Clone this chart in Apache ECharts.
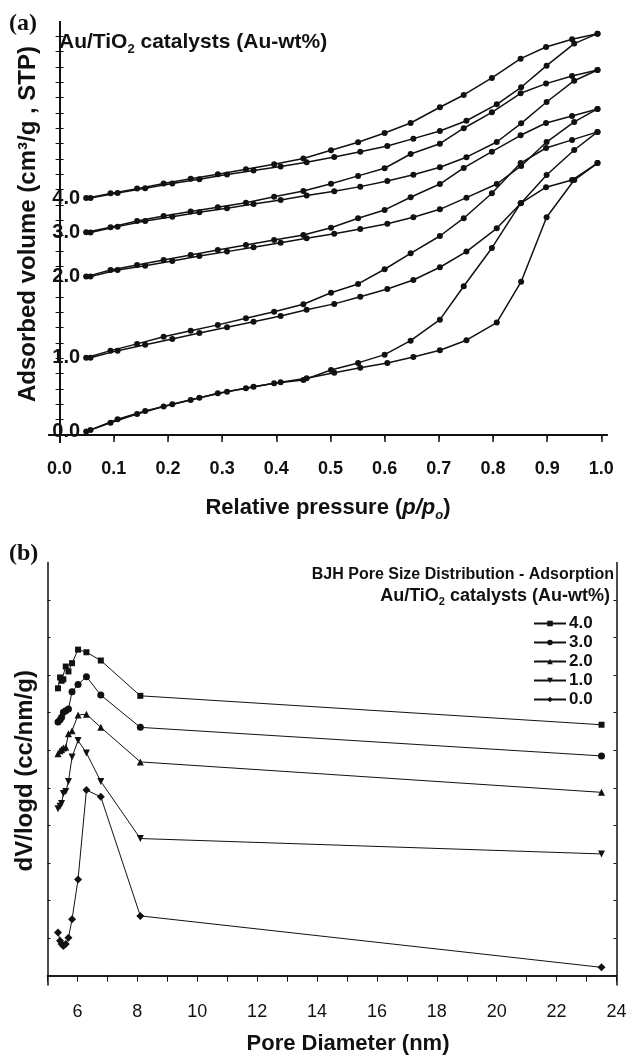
<!DOCTYPE html>
<html><head><meta charset="utf-8">
<script src="https://cdn.jsdelivr.net/npm/echarts@6/dist/echarts.min.js"></script>
<style>html,body{margin:0;padding:0;background:#fff}#c{width:632px;height:1056px}</style>
</head><body><div id="c"></div>
<script>
// ---------- Panel (a): N2 isotherms (offset, in tick units) ----------
const samples = ['4.0', '3.0', '2.0', '1.0', '0.0'];
const pAds = [0.057,0.107,0.158,0.208,0.258,0.309,0.358,0.408,0.456,0.507,0.555,0.605,0.653,0.702,0.751,0.807,0.852,0.899,0.950,0.993];
const pDes = [0.993,0.946,0.898,0.851,0.798,0.746,0.702,0.648,0.600,0.551,0.501,0.450,0.396,0.344,0.292,0.242,0.192,0.143,0.094,0.049];
const ads40 = [15.46,15.79,16.09,16.41,16.68,16.99,17.25,17.51,17.79,18.13,18.48,18.85,19.33,19.83,20.50,21.57,22.68,24.09,25.53,26.18];
const des40 = [26.18,25.81,25.31,24.55,23.29,22.18,21.38,20.35,19.70,19.09,18.57,18.04,17.66,17.33,17.01,16.71,16.40,16.07,15.76,15.45];
const ads30 = [13.21,13.59,13.96,14.24,14.53,14.79,15.07,15.33,15.62,15.90,16.20,16.57,16.98,17.46,18.12,19.11,20.33,21.72,23.11,23.81];
const des30 = [23.81,23.42,22.92,22.29,21.05,20.01,19.00,18.33,17.40,16.90,16.39,15.92,15.54,15.15,14.85,14.57,14.29,13.96,13.55,13.22];
const ads20 = [10.33,10.76,11.04,11.35,11.68,11.96,12.24,12.54,12.83,13.13,13.44,13.78,14.20,14.72,15.48,16.37,17.55,19.11,20.42,21.27];
const des20 = [21.27,20.81,20.35,19.55,18.48,17.42,16.37,15.51,14.68,14.14,13.52,13.05,12.72,12.39,12.07,11.74,11.42,11.09,10.76,10.33];
const ads10 = [5.04,5.50,5.89,6.26,6.65,7.03,7.39,7.76,8.17,8.55,9.02,9.52,10.11,10.94,11.96,13.48,15.13,16.96,18.59,19.77];
const des10 = [19.77,19.25,18.72,17.74,15.77,14.14,12.98,11.85,10.81,9.85,9.28,8.53,8.04,7.61,7.18,6.80,6.41,5.94,5.50,5.04];
const ads00 = [0.33,1.02,1.57,2.00,2.43,2.82,3.15,3.44,3.70,4.06,4.39,4.70,5.09,5.53,6.18,7.33,10.00,14.20,16.63,17.74];
const des00 = [17.74,16.63,16.16,15.11,12.20,9.70,7.52,6.15,5.24,4.70,4.24,3.59,3.37,3.05,2.72,2.28,1.85,1.37,0.80,0.22];
const adsA = [ads40, ads30, ads20, ads10, ads00];
const desA = [des40, des30, des20, des10, des00];
const xTicksA = [0,0.1,0.2,0.3,0.4,0.5,0.6,0.7,0.8,0.9,1.0];

// ---------- Panel (b): BJH pore size distribution ----------
const poreD = [5.35,5.42,5.47,5.53,5.61,5.70,5.82,6.02,6.30,6.78,8.10,23.50];
const b40 = [7.65,7.94,7.85,7.89,8.23,8.10,8.32,8.68,8.61,8.39,7.45,6.68];
const b30 = [6.75,6.81,6.88,7.01,7.05,7.10,7.56,7.75,7.96,7.47,6.61,5.85];
const b20 = [5.91,5.99,6.02,6.06,6.08,6.44,6.52,6.94,6.96,6.61,5.69,4.88];
const b10 = [4.44,4.51,4.58,4.85,4.90,5.17,5.82,6.26,5.93,5.17,3.65,3.24];
const b00 = [1.15,0.93,0.84,0.79,0.84,1.01,1.50,2.56,4.94,4.76,1.59,0.22];
const bData = [b40, b30, b20, b10, b00];
const bSymbols = ['rect', 'circle', 'triangle', 'triangle', 'diamond'];
const bRotate = [0, 0, 0, 180, 0];
const bSize = [6, 7, 7, 7, 8];

const FONT = '"Liberation Sans", Arial, Helvetica, sans-serif';
const K = '#111';

function rangeInt(a, b) { const r = []; for (let i = a; i <= b; i++) r.push(i); return r; }

const series = [];
samples.forEach((s, i) => {
  series.push({
    name: 'a-ads-' + s, type: 'line', xAxisIndex: 0, yAxisIndex: 0,
    data: pAds.map((p, j) => [p, adsA[i][j]]),
    symbol: 'circle', symbolSize: 6, showAllSymbol: true,
    lineStyle: { color: K, width: 1.5 }, itemStyle: { color: K }, z: 3
  });
  const dd = pDes.map((p, j) => [p, desA[i][j]]);
  const last = dd.length - 1;
  series.push({
    name: 'a-des-' + s, type: 'line', xAxisIndex: 0, yAxisIndex: 0,
    data: dd.map((v, j) => j === last ? {
      value: v,
      label: { show: true, position: 'left', distance: 3, formatter: s,
               fontFamily: FONT, fontWeight: 'bold', fontSize: 20, color: K }
    } : v),
    symbol: 'circle', symbolSize: 6, showAllSymbol: true,
    lineStyle: { color: K, width: 1.5 }, itemStyle: { color: K }, z: 3
  });
});
samples.forEach((s, i) => {
  series.push({
    name: s, type: 'line', xAxisIndex: 2, yAxisIndex: 2,
    data: poreD.map((d, j) => [d, bData[i][j]]),
    symbol: bSymbols[i], symbolRotate: bRotate[i], symbolSize: bSize[i], showAllSymbol: true,
    lineStyle: { color: K, width: 1 }, itemStyle: { color: K }, z: 3
  });
});

const axisLineA = { show: true, lineStyle: { color: K, width: 2 } };
const axisLineB = { show: true, lineStyle: { color: K, width: 1.5 } };

const option = {
  animation: false,
  backgroundColor: '#fff',
  grid: [
    { left: 49, top: 22, right: 25, height: 420 },
    { left: 47.5, top: 562.5, right: 15.5, height: 425 }
  ],
  xAxis: [
    { gridIndex: 0, type: 'value', position: 'bottom', min: -0.0196, max: 1.0105,
      axisLine: axisLineA, splitLine: { show: false },
      axisTick: { show: true, inside: false, length: 7, customValues: xTicksA, lineStyle: { color: K, width: 1.5 } },
      axisLabel: { show: true, customValues: xTicksA, margin: 18, formatter: v => v.toFixed(1),
                   fontFamily: FONT, fontWeight: 'bold', fontSize: 18, color: K },
      name: '{a|Relative pressure (}{i|p/p}{o|o}{a|)}', nameLocation: 'middle', nameGap: 52,
      nameTextStyle: { rich: {
        a: { fontFamily: FONT, fontWeight: 'bold', fontSize: 22, color: K },
        i: { fontFamily: FONT, fontWeight: 'bold', fontStyle: 'italic', fontSize: 22, color: K },
        o: { fontFamily: FONT, fontWeight: 'bold', fontStyle: 'italic', fontSize: 13, color: K, padding: [15, 0, 0, 0] }
      } } },
    { gridIndex: 0, type: 'value', position: 'top', min: -0.0196, max: 1.0105,
      axisLine: axisLineA, splitLine: { show: false },
      axisTick: { show: true, inside: true, length: 4, customValues: xTicksA, lineStyle: { color: K, width: 1 } },
      axisLabel: { show: false } },
    { gridIndex: 1, type: 'value', position: 'bottom', min: 5, max: 24, interval: 1,
      axisLine: axisLineB, splitLine: { show: false },
      axisTick: { show: true, inside: false, length: 6, lineStyle: { color: K, width: 1 } },
      axisLabel: { show: true, margin: 18, formatter: v => (v % 2 === 0 ? String(v) : ''),
                   fontFamily: FONT, fontSize: 18, color: K, showMinLabel: true, showMaxLabel: true },
      name: 'Pore Diameter (nm)', nameLocation: 'middle', nameGap: 48,
      nameTextStyle: { fontFamily: FONT, fontWeight: 'bold', fontSize: 22, color: K, padding: [0, 0, 0, 32] } },
    { gridIndex: 1, type: 'value', position: 'top', min: 5, max: 24, interval: 1,
      axisLine: axisLineB, splitLine: { show: false },
      axisTick: { show: true, inside: true, length: 3, lineStyle: { color: K, width: 1 } },
      axisLabel: { show: false } }
  ],
  yAxis: [
    { gridIndex: 0, type: 'value', position: 'left', min: -0.46, max: 26.94,
      axisLine: axisLineA, splitLine: { show: false },
      axisTick: { show: true, inside: true, length: 4, customValues: rangeInt(0, 26), lineStyle: { color: K, width: 1 } },
      axisLabel: { show: false },
      name: 'Adsorbed volume (cm³/g , STP)', nameLocation: 'middle', nameGap: 9, nameRotate: 90,
      nameTextStyle: { fontFamily: FONT, fontWeight: 'bold', fontSize: 24, color: K, padding: [0, 0, 0, 16] } },
    { gridIndex: 0, type: 'value', position: 'right', min: -0.46, max: 26.94,
      axisLine: axisLineA, splitLine: { show: false },
      axisTick: { show: true, inside: true, length: 4, customValues: rangeInt(0, 26), lineStyle: { color: K, width: 1 } },
      axisLabel: { show: false } },
    { gridIndex: 1, type: 'value', position: 'left', min: -0.25, max: 11.0,
      axisLine: axisLineB, splitLine: { show: false },
      axisTick: { show: true, inside: true, length: 3, customValues: rangeInt(0, 10), lineStyle: { color: K, width: 1 } },
      axisLabel: { show: false },
      name: 'dV/logd (cc/nm/g)', nameLocation: 'middle', nameGap: 10, nameRotate: 90,
      nameTextStyle: { fontFamily: FONT, fontWeight: 'bold', fontSize: 24, color: K, padding: [0, 0, 0, 6] } },
    { gridIndex: 1, type: 'value', position: 'right', min: -0.25, max: 11.0,
      axisLine: axisLineB, splitLine: { show: false },
      axisTick: { show: true, inside: true, length: 3, customValues: rangeInt(0, 10), lineStyle: { color: K, width: 1 } },
      axisLabel: { show: false } }
  ],
  legend: {
    data: samples, orient: 'vertical', left: 528, top: 610, itemWidth: 32, itemHeight: 7, itemGap: 2,
    align: 'left',
    textStyle: { fontFamily: FONT, fontWeight: 'bold', fontSize: 17, color: K, padding: [0, 0, 0, -2] }
  },
  graphic: [
    { type: 'text', left: 9, top: 12, style: { text: '(a)', font: 'bold 24px "Liberation Serif", "Times New Roman", serif', fill: K } },
    { type: 'text', left: 9, top: 542, style: { text: '(b)', font: 'bold 24px "Liberation Serif", "Times New Roman", serif', fill: K } },
    { type: 'text', left: 59, top: 32, z: 10, style: {
        text: '{a|Au/TiO}{s|2}{a| catalysts (Au-wt%)}',
        rich: {
          a: { fontFamily: FONT, fontWeight: 'bold', fontSize: 21, fill: K },
          s: { fontFamily: FONT, fontWeight: 'bold', fontSize: 13, fill: K, padding: [14, 0, 0, 0] }
        } } },
    { type: 'text', right: 18, top: 567, z: 10, style: {
        text: 'BJH Pore Size Distribution - Adsorption', font: 'bold 16px ' + FONT, fill: K, align: 'right' } },
    { type: 'text', right: 22, top: 587, z: 10, style: {
        text: '{a|Au/TiO}{s|2}{a| catalysts (Au-wt%)}',
        rich: {
          a: { fontFamily: FONT, fontWeight: 'bold', fontSize: 18, fill: K },
          s: { fontFamily: FONT, fontWeight: 'bold', fontSize: 11, fill: K, padding: [12, 0, 0, 0] }
        } } }
  ],
  series: series
};
const chart = echarts.init(document.getElementById('c'), null, { renderer: 'canvas' });
chart.setOption(option);
</script>
</body></html>
